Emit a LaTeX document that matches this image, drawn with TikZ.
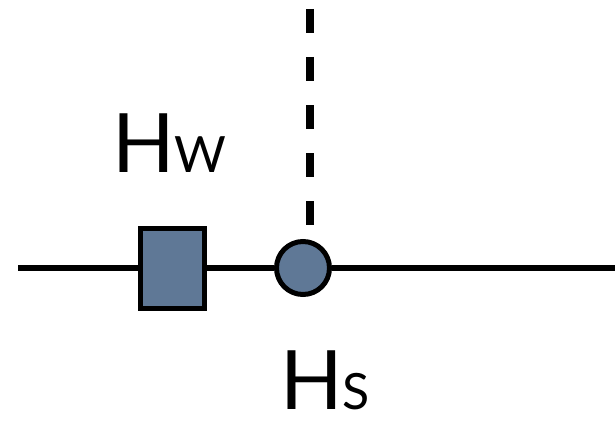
\documentclass[tikz,border=0pt]{standalone}
\usepackage{fontspec}
\setmainfont{Lato}
\definecolor{slate}{RGB}{95,120,150}
\begin{document}
\begin{tikzpicture}[x=1pt,y=-1pt,
  wire/.style={line width=6pt},
  blk/.style={draw, line width=5pt, fill=slate, inner sep=0pt},
  lbl/.style={inner sep=0pt, anchor=base west, font=\fontsize{82}{82}\selectfont}]
\useasboundingbox (0,0) rectangle (615,420);
\coordinate (L) at (18,268);
\coordinate (R) at (615,268);
\node[blk, minimum width=64pt, minimum height=80pt] (sq) at (172.5,268) {};
\node[blk, circle, minimum size=53pt] (c) at (303,268) {};
\coordinate (top) at (310,9);
\draw[wire] (L) -- (sq.west);
\draw[wire] (sq.east) -- (c.west);
\draw[wire] (c.east) -- (R);
\draw[line width=7.5pt, dash pattern=on 24pt off 24pt] (top) -- (top |- c.north);
\node[lbl] (hw) at (112,172) {H{\fontsize{50}{50}\selectfont W}};
\node[lbl] (hs) at (280,409) {H{\fontsize{50}{50}\selectfont S}};
\end{tikzpicture}
\end{document}
